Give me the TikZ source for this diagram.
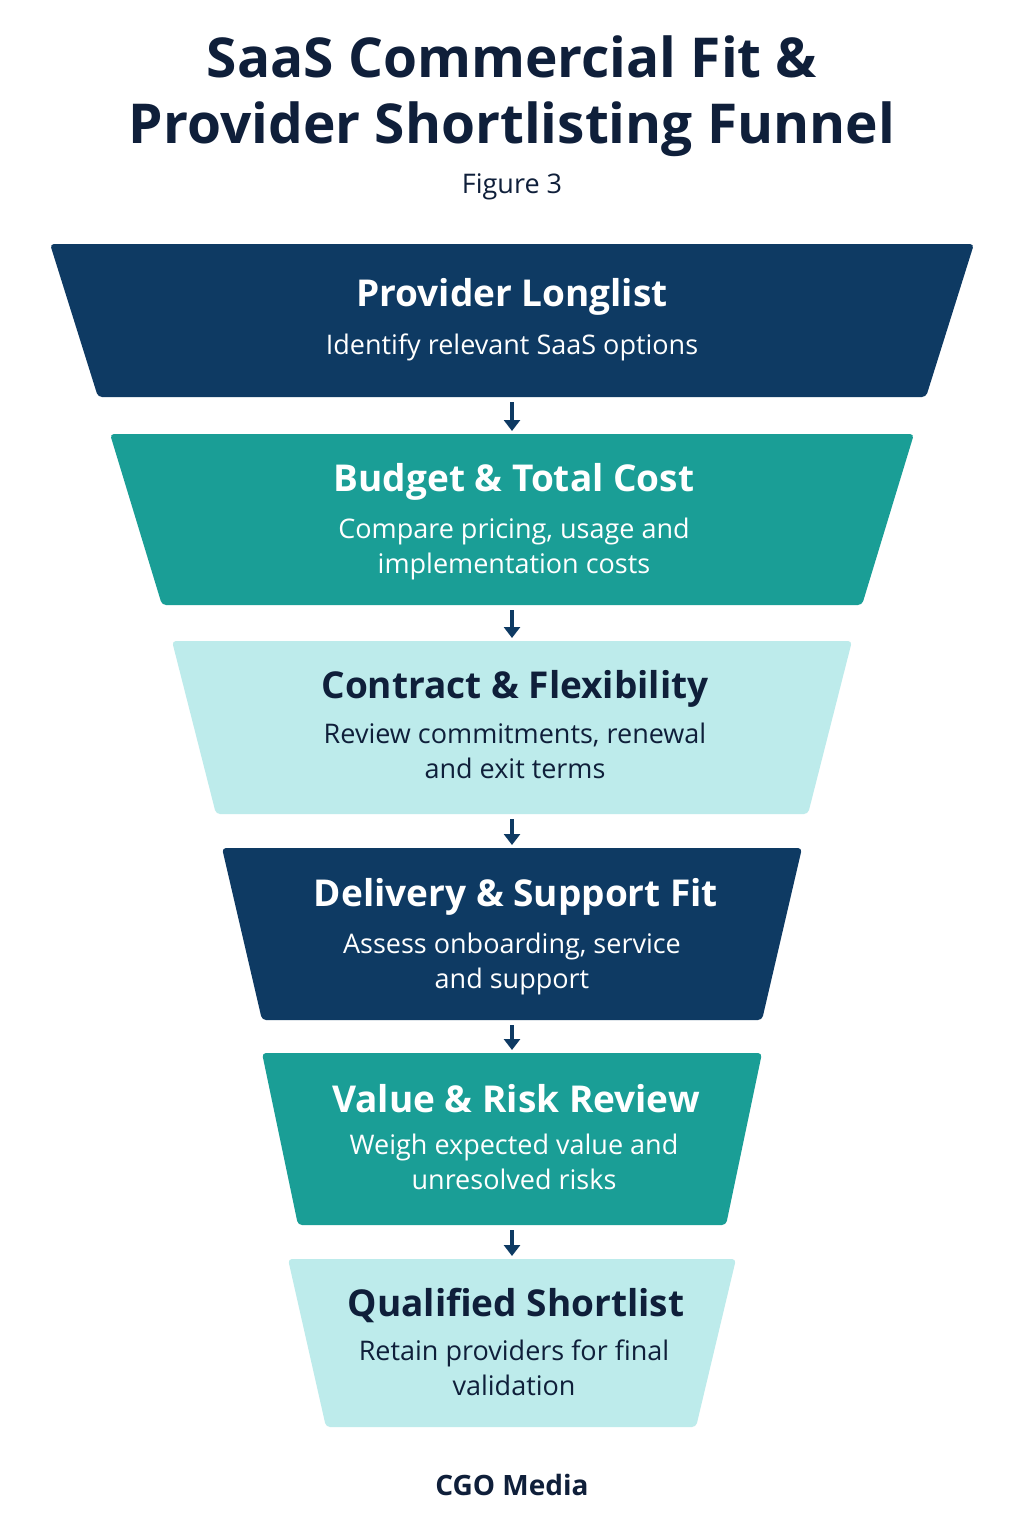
\documentclass[tikz,border=0pt]{standalone}
\usepackage{fontspec}
\setmainfont{Open Sans}
\usetikzlibrary{arrows.meta}
\definecolor{navy}{HTML}{0E3A63}
\definecolor{teal}{HTML}{1A9E96}
\definecolor{light}{HTML}{BDEBEB}
\definecolor{ink}{HTML}{0F1F3A}
\begin{document}
\begin{tikzpicture}[x=1pt,y=-1pt,
  stage/.style={rounded corners=4pt},
  ttl/.style={font=\fontsize{37}{44}\selectfont\bfseries,anchor=center},
  sub/.style={font=\fontsize{27}{35}\selectfont,align=center,anchor=north},
  arr/.style={-{Triangle[width=16pt,length=11pt]},line width=3.5pt,draw=navy,shorten <=5pt,shorten >=3pt}]
\useasboundingbox (0,0) rectangle (1024,1536);
\fill[white] (0,0) rectangle (1024,1536);
\node[font=\fontsize{55}{66}\selectfont\bfseries,text=ink,align=center] (title) at (512,96) {SaaS Commercial Fit \&\\Provider Shortlisting Funnel};
\node[font=\fontsize{27}{30}\selectfont,text=ink] (fig) at (512,187) {Figure 3};
\fill[stage,navy] (50,244) -- (974,244) -- (926,397) -- (98,397) -- cycle;
\coordinate (s1b) at (512,397);
\fill[stage,teal] (110,434) -- (914,434) -- (862,605) -- (162,605) -- cycle;
\coordinate (s2t) at (512,434); \coordinate (s2b) at (512,605);
\fill[stage,light] (172,641) -- (852,641) -- (808,814) -- (216,814) -- cycle;
\coordinate (s3t) at (512,641); \coordinate (s3b) at (512,814);
\fill[stage,navy] (222,848) -- (802,848) -- (762,1020) -- (262,1020) -- cycle;
\coordinate (s4t) at (512,848); \coordinate (s4b) at (512,1020);
\fill[stage,teal] (262,1053) -- (762,1053) -- (726,1225) -- (298,1225) -- cycle;
\coordinate (s5t) at (512,1053); \coordinate (s5b) at (512,1225);
\fill[stage,light] (288,1259) -- (736,1259) -- (696,1427) -- (326,1427) -- cycle;
\coordinate (s6t) at (512,1259);
\draw[arr] (s1b) -- (s2t);
\draw[arr] (s2b) -- (s3t);
\draw[arr] (s3b) -- (s4t);
\draw[arr] (s4b) -- (s5t);
\draw[arr] (s5b) -- (s6t);
\node[ttl,text=white] (t1) at (512,297) {Provider Longlist};
\node[sub,text=white] (d1) at (512,330) {Identify relevant SaaS options};
\node[ttl,text=white] (t2) at (514,482) {Budget \& Total Cost};
\node[sub,text=white] (d2) at (514,514) {Compare pricing, usage and\\implementation costs};
\node[ttl,text=ink] (t3) at (515,689) {Contract \& Flexibility};
\node[sub,text=ink] (d3) at (515,719) {Review commitments, renewal\\and exit terms};
\node[ttl,text=white] (t4) at (516,897) {Delivery \& Support Fit};
\node[sub,text=white] (d4) at (512,929) {Assess onboarding, service\\and support};
\node[ttl,text=white] (t5) at (516,1099) {Value \& Risk Review};
\node[sub,text=white] (d5) at (514,1130) {Weigh expected value and\\unresolved risks};
\node[ttl,text=ink] (t6) at (516,1305) {Qualified Shortlist};
\node[sub,text=ink] (d6) at (514,1336) {Retain providers for final\\validation};
\node[font=\fontsize{28}{32}\selectfont\bfseries,text=ink] (brand) at (512,1485) {CGO Media};
\end{tikzpicture}
\end{document}
